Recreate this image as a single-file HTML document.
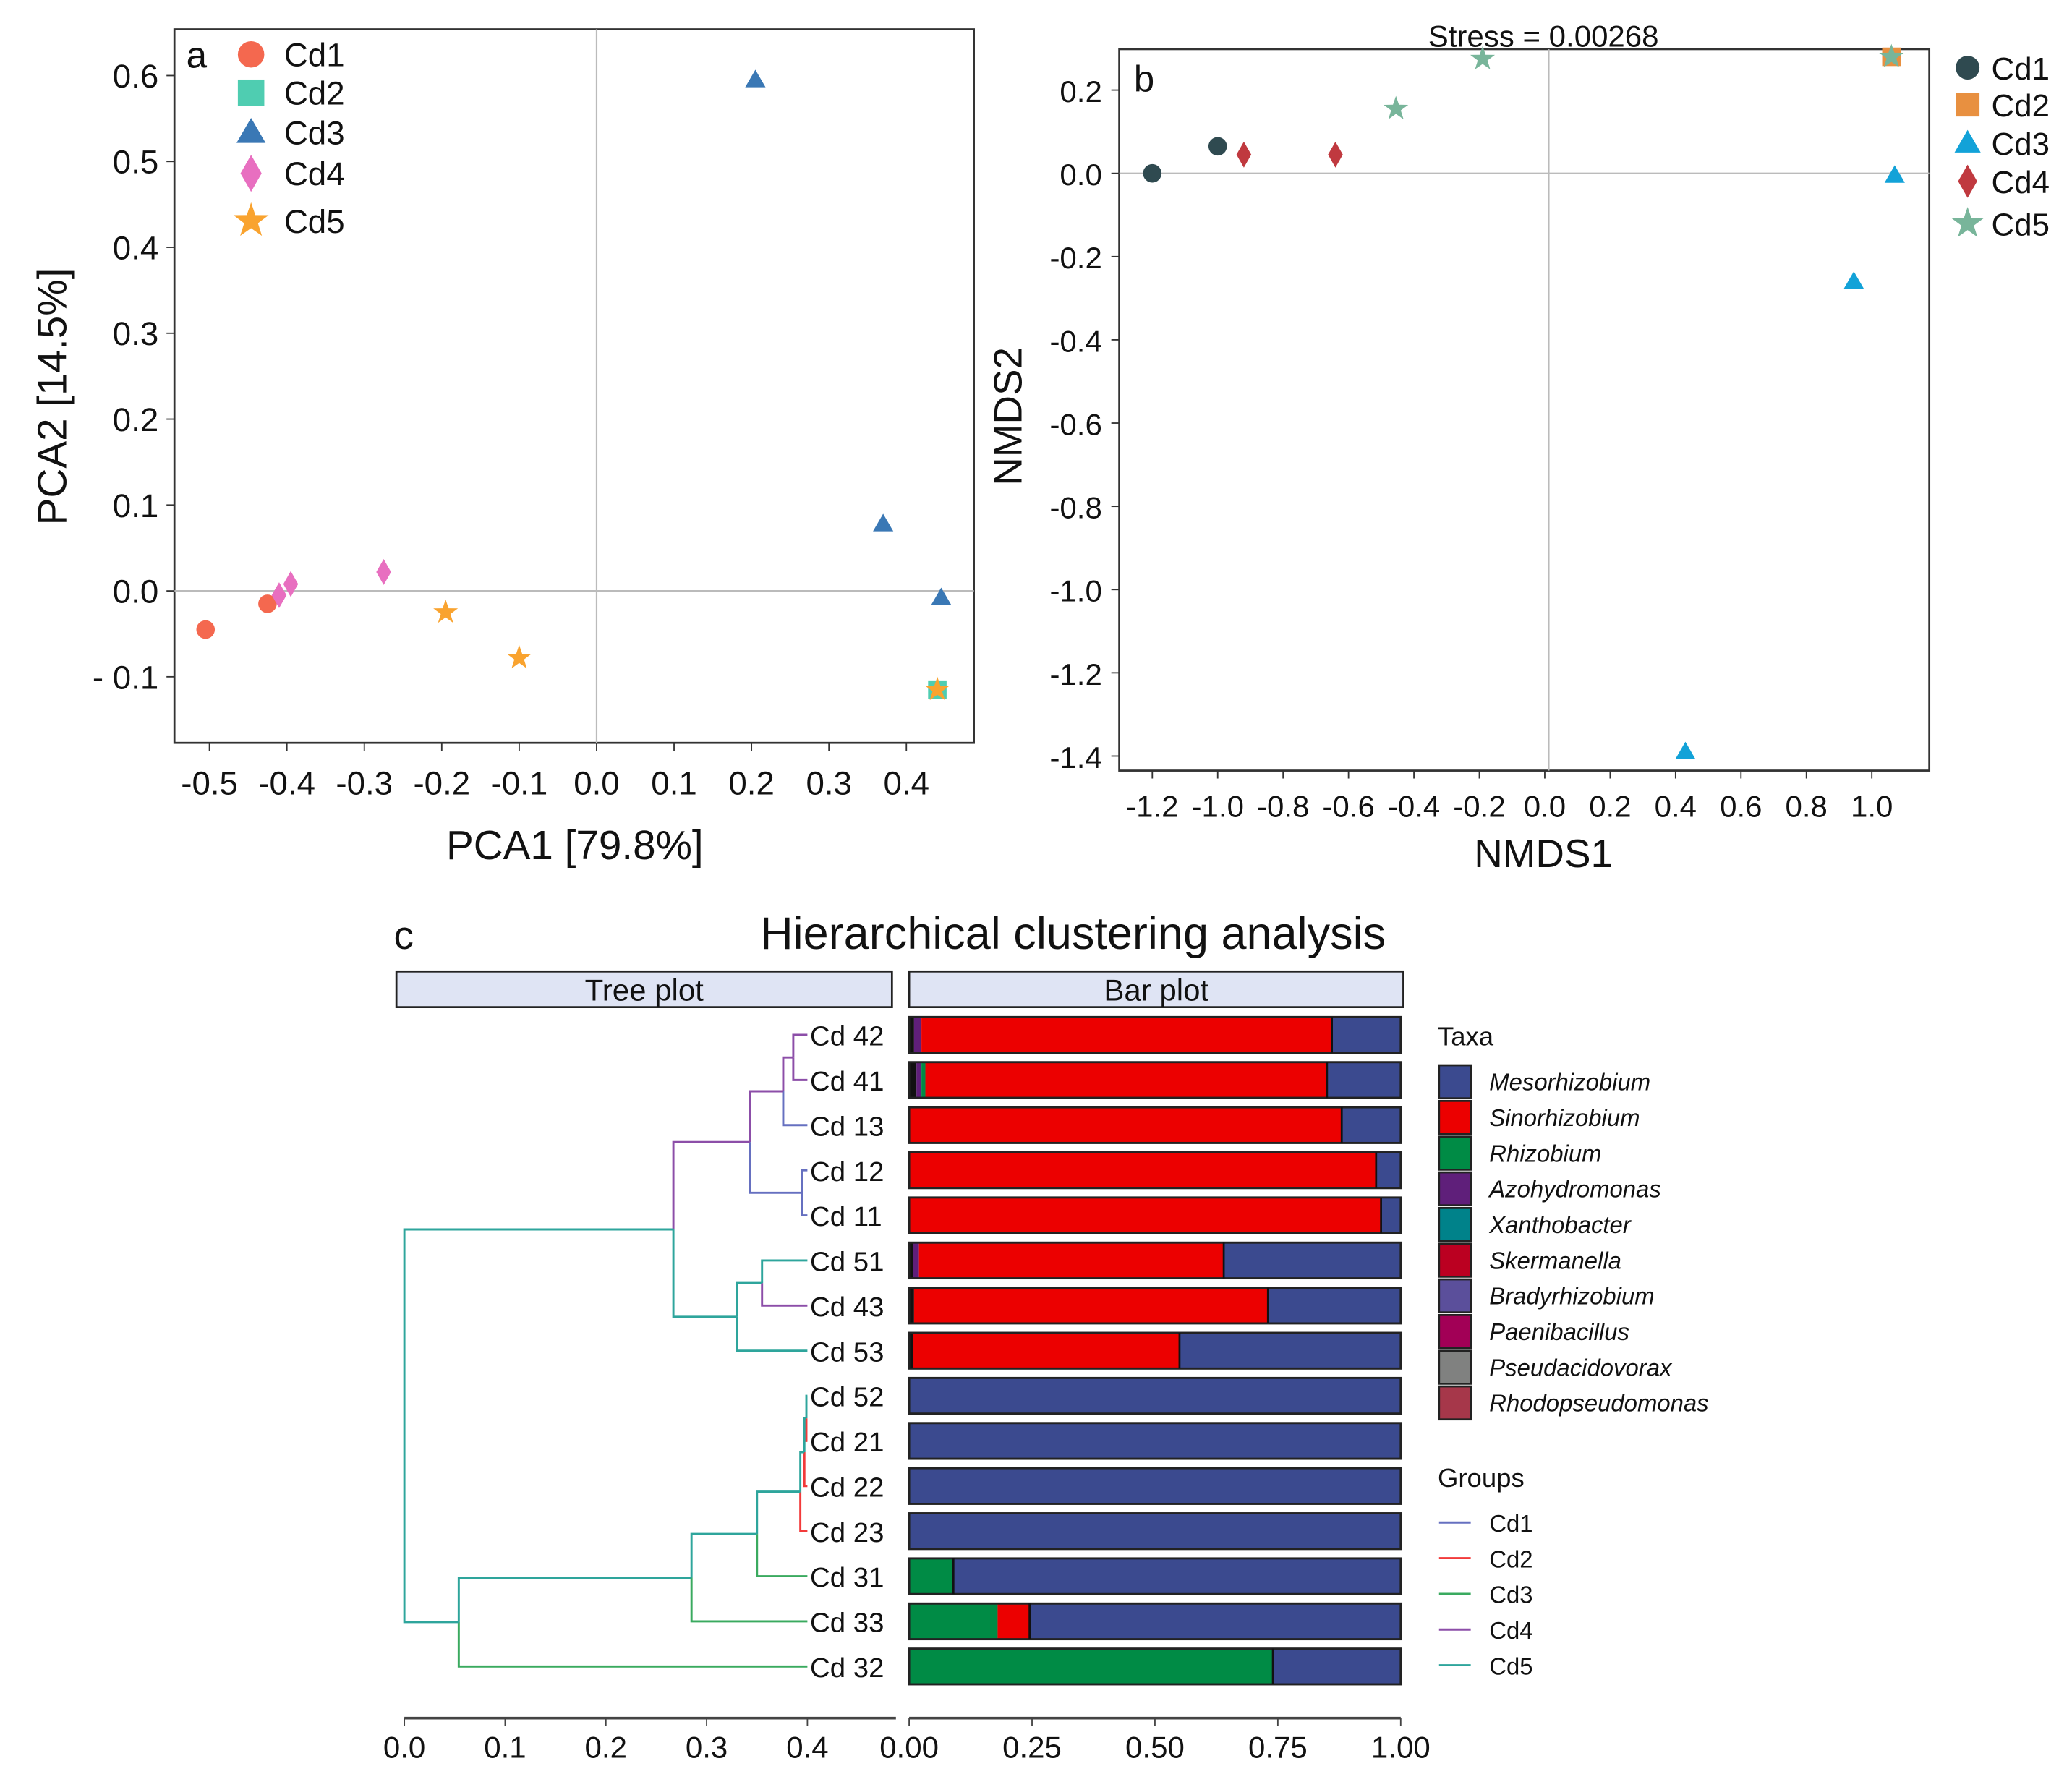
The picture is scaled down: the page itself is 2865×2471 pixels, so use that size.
<!DOCTYPE html>
<html><head><meta charset="utf-8"><style>
html,body{margin:0;padding:0;background:#fff;}
svg{display:block;font-family:"Liberation Sans",sans-serif;}
</style></head><body>
<svg id="fig" width="2865" height="2471" viewBox="0 0 1568 1352" xmlns="http://www.w3.org/2000/svg"></svg>
<script>
// ---------- Panel a (PCA) data ----------
const pcaGroups = ['Cd1','Cd2','Cd3','Cd4','Cd5'];
const pcaX_Cd1 = [-0.505,-0.425];
const pcaY_Cd1 = [-0.045,-0.015];
const pcaX_Cd2 = [0.44];
const pcaY_Cd2 = [-0.115];
const pcaX_Cd3 = [0.205,0.37,0.445];
const pcaY_Cd3 = [0.595,0.078,-0.008];
const pcaX_Cd4 = [-0.41,-0.395,-0.275];
const pcaY_Cd4 = [-0.005,0.008,0.022];
const pcaX_Cd5 = [-0.195,-0.10,0.44];
const pcaY_Cd5 = [-0.025,-0.078,-0.115];
const pcaXTicks = [-0.5,-0.4,-0.3,-0.2,-0.1,0.0,0.1,0.2,0.3,0.4];
const pcaYTicks = [-0.1,0.0,0.1,0.2,0.3,0.4,0.5,0.6];

// ---------- Panel b (NMDS) data ----------
const nmdsX_Cd1 = [-1.2,-1.0];
const nmdsY_Cd1 = [0.0,0.065];
const nmdsX_Cd2 = [1.06];
const nmdsY_Cd2 = [0.28];
const nmdsX_Cd3 = [1.07,0.945,0.43];
const nmdsY_Cd3 = [-0.005,-0.26,-1.39];
const nmdsX_Cd4 = [-0.92,-0.64];
const nmdsY_Cd4 = [0.045,0.045];
const nmdsX_Cd5 = [-0.455,-0.19,1.06];
const nmdsY_Cd5 = [0.155,0.275,0.28];
const nmdsXTicks = [-1.2,-1.0,-0.8,-0.6,-0.4,-0.2,0.0,0.2,0.4,0.6,0.8,1.0];
const nmdsYTicks = [0.2,0.0,-0.2,-0.4,-0.6,-0.8,-1.0,-1.2,-1.4];

// ---------- Panel c data ----------
const samples = ['Cd 42','Cd 41','Cd 13','Cd 12','Cd 11','Cd 51','Cd 43','Cd 53','Cd 52','Cd 21','Cd 22','Cd 23','Cd 31','Cd 33','Cd 32'];
const taxa = ['Mesorhizobium','Sinorhizobium','Rhizobium','Azohydromonas','Xanthobacter','Skermanella','Bradyrhizobium','Paenibacillus','Pseudacidovorax','Rhodopseudomonas'];
const otherShare = [0.01,0.015,0.0,0,0,0.008,0.01,0.008,0,0,0,0,0,0,0];
const azoShare   = [0.015,0.01,0,0,0,0.012,0,0,0,0,0,0,0,0,0];
const rhizoShare = [0,0.008,0,0,0,0,0,0,0,0,0,0,0.09,0.18,0.74];
const sinoShare  = [0.835,0.817,0.88,0.95,0.96,0.62,0.72,0.542,0,0,0,0,0,0.065,0];
const mesoShare  = [0.14,0.15,0.12,0.05,0.04,0.36,0.27,0.45,1,1,1,1,0.91,0.755,0.26];
// dendrogram merges: [childA, childB, height, groupA, groupB]
const merges = [
 [0,1,0.386,'Cd4','Cd4'],
 [15,2,0.376,'Cd4','Cd1'],
 [3,4,0.395,'Cd1','Cd1'],
 [16,17,0.343,'Cd4','Cd1'],
 [5,6,0.355,'Cd5','Cd4'],
 [19,7,0.33,'Cd5','Cd5'],
 [18,20,0.267,'Cd4','Cd5'],
 [8,9,0.399,'Cd5','Cd2'],
 [22,10,0.397,'Cd5','Cd2'],
 [23,11,0.393,'Cd5','Cd2'],
 [24,12,0.35,'Cd5','Cd3'],
 [25,13,0.285,'Cd5','Cd3'],
 [26,14,0.054,'Cd5','Cd3'],
 [21,27,0.0,'Cd5','Cd5']
];
const treeTicks = [0.0,0.1,0.2,0.3,0.4];
const barTicks = ['0.00','0.25','0.50','0.75','1.00'];

const NS='http://www.w3.org/2000/svg';
const svg=document.getElementById('fig');
function el(tag,attrs,parent,text){const e=document.createElementNS(NS,tag);for(const k in attrs)e.setAttribute(k,attrs[k]);if(text!==undefined)e.textContent=text;(parent||svg).appendChild(e);return e;}
function grp(name){const g=el('g',{});


return g;}
function marker(g,shape,cx,cy,color,sz){
 let m;
 if(shape==='circle')m=el('circle',{cx:cx,cy:cy,r:sz,fill:color},g);
 else if(shape==='square')m=el('rect',{x:cx-sz,y:cy-sz,width:2*sz,height:2*sz,fill:color},g);
 else if(shape==='triangle')m=el('polygon',{points:`${cx},${cy-sz*1.1} ${cx-sz*1.1},${cy+sz*0.8} ${cx+sz*1.1},${cy+sz*0.8}`,fill:color},g);
 else if(shape==='diamond')m=el('polygon',{points:`${cx},${cy-sz*1.4} ${cx-sz*0.8},${cy} ${cx},${cy+sz*1.4} ${cx+sz*0.8},${cy}`,fill:color},g);
 else {let p=[];for(let i=0;i<10;i++){const r=i%2?sz*0.55:sz*1.4;const a=-Math.PI/2+i*Math.PI/5;p.push((cx+r*Math.cos(a)).toFixed(2)+','+(cy+r*Math.sin(a)).toFixed(2));}m=el('polygon',{points:p.join(' '),fill:color},g);}
 return m;
}
const shapes=['circle','square','triangle','diamond','star'];

// ===== Panel a =====
(function(){
 const L=132,R=737,T=22,B=562;
 const xs=v=>451.5+v*586; const ys=v=>447-v*650;
 const g=grp('pca-panel');
 el('rect',{x:L,y:T,width:R-L,height:B-T,fill:'none',stroke:'#333','stroke-width':1.5},g);
 el('line',{x1:L,x2:R,y1:ys(0),y2:ys(0),stroke:'#bbb','stroke-width':1.2},g);
 el('line',{x1:xs(0),x2:xs(0),y1:T,y2:B,stroke:'#bbb','stroke-width':1.2},g);
 pcaXTicks.forEach(t=>{el('line',{x1:xs(t),x2:xs(t),y1:B,y2:B+6,stroke:'#333'},g);
  const tx=el('text',{x:xs(t),y:B+39,'font-size':25,'text-anchor':'middle',fill:'#111'},g,t.toFixed(1));
  });
 pcaYTicks.forEach(t=>{el('line',{x1:L-6,x2:L,y1:ys(t),y2:ys(t),stroke:'#333'},g);
  const tx=el('text',{x:L-12,y:ys(t)+9,'font-size':25,'text-anchor':'end',fill:'#111'},g,t<0?'- '+Math.abs(t).toFixed(1):t.toFixed(1));
  });
 const xt=el('text',{x:435,y:650,'font-size':31,'text-anchor':'middle',fill:'#111'},g,'PCA1 [79.8%]');
 
 const yt=el('text',{x:0,y:0,'font-size':31,'text-anchor':'middle',fill:'#111',transform:'translate(50,300) rotate(-90)'},g,'PCA2 [14.5%]');
 
 const pl=el('text',{x:141,y:51,'font-size':28,fill:'#111'},g,'a');
 
 const cols=['#f4684f','#4fcdb1','#3a78b5','#e86fc0','#f9a32f'];
 const X=[pcaX_Cd1,pcaX_Cd2,pcaX_Cd3,pcaX_Cd4,pcaX_Cd5],Y=[pcaY_Cd1,pcaY_Cd2,pcaY_Cd3,pcaY_Cd4,pcaY_Cd5];
 const ly=[41,70,100,131,167];
 pcaGroups.forEach((n,i)=>{
  X[i].forEach((x,j)=>{const m=marker(g,shapes[i],xs(x),ys(Y[i][j]),cols[i],7);
   
   });
  const lm=marker(g,shapes[i],190,ly[i],cols[i],10);
  
  
  const lt=el('text',{x:215,y:ly[i]+9,'font-size':25,fill:'#111'},g,n);
  
  
 });
})();

// ===== Panel b =====
(function(){
 const L=847,R=1460,T=37,B=583;
 const xs=v=>1169+v*247.5; const ys=v=>131-v*315;
 const g=grp('nmds-panel');
 el('rect',{x:L,y:T,width:R-L,height:B-T,fill:'none',stroke:'#333','stroke-width':1.5},g);
 el('line',{x1:L,x2:R,y1:ys(0),y2:ys(0),stroke:'#bbb','stroke-width':1.2},g);
 el('line',{x1:1172,x2:1172,y1:T,y2:B,stroke:'#bbb','stroke-width':1.2},g);
 nmdsXTicks.forEach(t=>{el('line',{x1:xs(t),x2:xs(t),y1:B,y2:B+6,stroke:'#333'},g);
  const tx=el('text',{x:xs(t),y:B+35,'font-size':23,'text-anchor':'middle',fill:'#111'},g,t.toFixed(1));
  });
 nmdsYTicks.forEach(t=>{el('line',{x1:L-6,x2:L,y1:ys(t),y2:ys(t),stroke:'#333'},g);
  const tx=el('text',{x:L-13,y:ys(t)+9,'font-size':23,'text-anchor':'end',fill:'#111'},g,t.toFixed(1));
  });
 const st=el('text',{x:1168,y:35,'font-size':23,'text-anchor':'middle',fill:'#111'},g,'Stress = 0.00268');
 
 const xt=el('text',{x:1168,y:656,'font-size':30,'text-anchor':'middle',fill:'#111'},g,'NMDS1');
 
 const yt=el('text',{x:0,y:0,'font-size':30,'text-anchor':'middle',fill:'#111',transform:'translate(773,315) rotate(-90)'},g,'NMDS2');
 
 const pl=el('text',{x:858,y:69,'font-size':28,fill:'#111'},g,'b');
 
 const cols=['#2f4a50','#e89040','#12a2d8','#c0393f','#78b59a'];
 const X=[nmdsX_Cd1,nmdsX_Cd2,nmdsX_Cd3,nmdsX_Cd4,nmdsX_Cd5],Y=[nmdsY_Cd1,nmdsY_Cd2,nmdsY_Cd3,nmdsY_Cd4,nmdsY_Cd5];
 const ly=[51,79,108,137,169];
 pcaGroups.forEach((n,i)=>{
  X[i].forEach((x,j)=>{const m=marker(g,shapes[i],xs(x),ys(Y[i][j]),cols[i],7);
   
   });
  const lm=marker(g,shapes[i],1489,ly[i],cols[i],9);
  
  
  const lt=el('text',{x:1507,y:ly[i]+9,'font-size':24,fill:'#111'},g,n);
  
  
 });
})();

// ===== Panel c =====
(function(){
 const g=grp('clustering-panel');
 const pl=el('text',{x:298,y:718,'font-size':30,fill:'#111'},g,'c');
 
 const tt=el('text',{x:812,y:718,'font-size':34.5,'text-anchor':'middle',fill:'#111'},g,'Hierarchical clustering analysis');
 
 [[300,675,'Tree plot','tree-plot-header'],[688,1062,'Bar plot','bar-plot-header']].forEach(h=>{
  el('rect',{x:h[0],y:735,width:h[1]-h[0],height:27,fill:'#dfe4f4',stroke:'#222','stroke-width':1.5},g);
  const t=el('text',{x:(h[0]+h[1])/2,y:757,'font-size':23,'text-anchor':'middle',fill:'#111'},g,h[2]);
  
 });
 const gc={Cd1:'#6670c0',Cd2:'#f23a3a',Cd3:'#3aaa5f',Cd4:'#8c4ea8',Cd5:'#2ea59c'};
 const rowY=i=>783+i*34.14;
 const tx=v=>306+v*762.5;
 const bx=v=>688+v*372;
 const nodeY=[],nodeH=[];
 samples.forEach((s,i)=>{nodeY[i]=rowY(i);nodeH[i]=0.4;});
 merges.forEach((m,k)=>{
  const id=samples.length+k;const [a,b,h,ca,cb]=m;
  const ya=nodeY[a],yb=nodeY[b],ym=(ya+yb)/2;
  nodeY[id]=ym;nodeH[id]=h;
  const xh=tx(h);
  const l1=el('path',{d:`M${xh},${ym} V${ya} H${tx(nodeH[a])}`,fill:'none',stroke:gc[ca],'stroke-width':1.6},g);
  
  const l2=el('path',{d:`M${xh},${ym} V${yb} H${tx(nodeH[b])}`,fill:'none',stroke:gc[cb],'stroke-width':1.6},g);
  
 });
 const cols={meso:'#3b4a8f',sino:'#ec0000',rhizo:'#008b45',azo:'#5f1f7a',other:'#111'};
 samples.forEach((s,i)=>{
  const y=rowY(i);
  const lt=el('text',{x:613,y:y+8,'font-size':21,fill:'#111'},g,s);
  
  const segs=[['other',otherShare[i]],['azo',azoShare[i]],['rhizo',rhizoShare[i]],['sino',sinoShare[i]],['meso',mesoShare[i]]];
  let acc=0;
  segs.forEach(sg=>{if(sg[1]<=0)return;
   const r=el('rect',{x:bx(acc),y:y-13.5,width:bx(acc+sg[1])-bx(acc),height:27,fill:cols[sg[0]]},g);
   
   acc+=sg[1];});
  el('rect',{x:bx(0),y:y-13.5,width:bx(1)-bx(0),height:27,fill:'none',stroke:'#222','stroke-width':1.6},g);
 });
 samples.forEach((s,i)=>{const y=rowY(i);const b=1-mesoShare[i];if(b>0.001&&b<0.999)el('line',{x1:bx(b),x2:bx(b),y1:y-13.5,y2:y+13.5,stroke:'#111','stroke-width':1.5},g);});
 el('line',{x1:tx(0),x2:678,y1:1300,y2:1300,stroke:'#444','stroke-width':2},g);
 treeTicks.forEach(t=>{el('line',{x1:tx(t),x2:tx(t),y1:1300,y2:1306,stroke:'#444'},g);
  const e=el('text',{x:tx(t),y:1330,'font-size':23,'text-anchor':'middle',fill:'#111'},g,t.toFixed(1));
  });
 el('line',{x1:bx(0),x2:bx(1),y1:1300,y2:1300,stroke:'#444','stroke-width':2},g);
 barTicks.forEach(t=>{const v=parseFloat(t);el('line',{x1:bx(v),x2:bx(v),y1:1300,y2:1306,stroke:'#444'},g);
  const e=el('text',{x:bx(v),y:1330,'font-size':23,'text-anchor':'middle',fill:'#111'},g,t);
  });
 const taxCols=['#3b4a8f','#ec0000','#008b45','#5f1f7a','#00828a','#bb0021','#5b4f9b','#a20056','#808180','#a6374a'];
 const th=el('text',{x:1088,y:791,'font-size':20,fill:'#111'},g,'Taxa');
 
 taxa.forEach((t,i)=>{const y=806+i*27;
  el('rect',{x:1089,y:y,width:24,height:25,fill:taxCols[i],stroke:'#222','stroke-width':1.5},g);
  const e=el('text',{x:1127,y:y+19,'font-size':18,'font-style':'italic',fill:'#111'},g,t);
  });
 const gh=el('text',{x:1088,y:1125,'font-size':20,fill:'#111'},g,'Groups');
 
 pcaGroups.forEach((n,i)=>{const y=1152+i*27;
  el('line',{x1:1089,x2:1113,y1:y,y2:y,stroke:gc[n],'stroke-width':1.6},g);
  const e=el('text',{x:1127,y:y+7,'font-size':18,fill:'#111'},g,n);
  });
})();
</script>
</body></html>
